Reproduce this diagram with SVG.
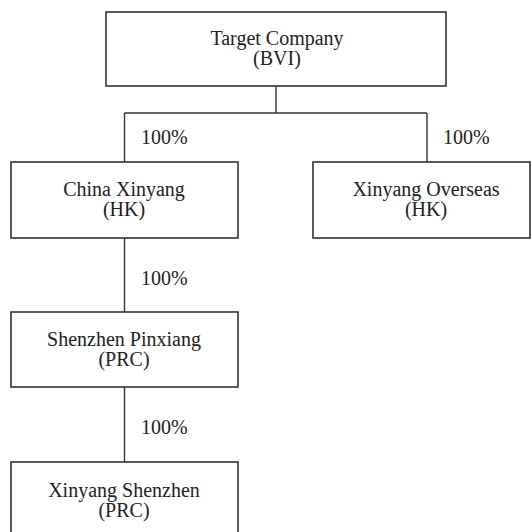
<svg xmlns="http://www.w3.org/2000/svg" width="531" height="532" viewBox="0 0 531 532">
<style>
rect{fill:#fff;stroke:#333;stroke-width:1.6}
.c line{stroke:#333;stroke-width:1.4}
text{font-family:"Liberation Serif","Times New Roman",serif;font-size:20px;fill:#222}
.m{text-anchor:middle}
</style>
<rect x="0" y="0" width="531" height="532" style="stroke:none"/>
<g class="c" id="connectors">
<line x1="276" y1="86" x2="276" y2="113"/>
<line x1="124.5" y1="113" x2="427" y2="113"/>
<line x1="124.5" y1="113" x2="124.5" y2="162"/>
<line x1="427" y1="113" x2="427" y2="162"/>
<line x1="124.5" y1="238" x2="124.5" y2="312"/>
<line x1="124.5" y1="387" x2="124.5" y2="462"/>
<text x="141" y="144">100%</text>
<text x="443" y="144">100%</text>
<text x="141" y="285">100%</text>
<text x="141" y="434">100%</text>
</g>
<g id="target">
<rect x="106" y="12" width="340" height="74"/>
<text class="m" x="277" y="45">Target Company</text>
<text class="m" x="277" y="65">(BVI)</text>
</g>
<g id="china-xinyang">
<rect x="11" y="162" width="227" height="76"/>
<text class="m" x="124" y="196">China Xinyang</text>
<text class="m" x="124" y="216">(HK)</text>
</g>
<g id="xinyang-overseas">
<rect x="313" y="162" width="217" height="76"/>
<text class="m" x="426" y="196">Xinyang Overseas</text>
<text class="m" x="426" y="216">(HK)</text>
</g>
<g id="shenzhen-pinxiang">
<rect x="11" y="312" width="227" height="75"/>
<text class="m" x="124" y="346">Shenzhen Pinxiang</text>
<text class="m" x="124" y="366">(PRC)</text>
</g>
<g id="xinyang-shenzhen">
<rect x="11" y="462" width="227" height="80"/>
<text class="m" x="124" y="497">Xinyang Shenzhen</text>
<text class="m" x="124" y="517">(PRC)</text>
</g>
</svg>
